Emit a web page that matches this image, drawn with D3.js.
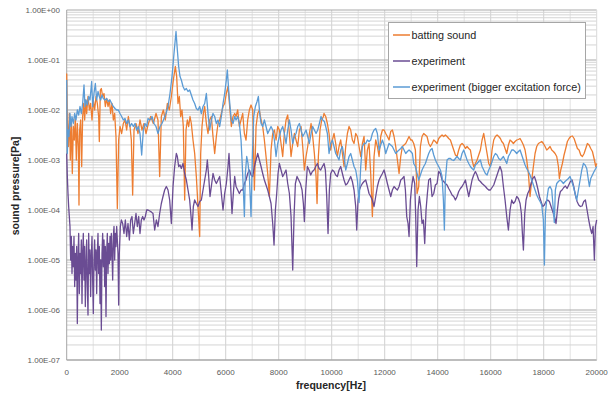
<!DOCTYPE html>
<html>
<head>
<meta charset="utf-8">
<script src="https://cdn.jsdelivr.net/npm/d3@7"></script>
<style>
  body { margin: 0; background: #fff; }
  text { font-family: "Liberation Sans", Arial, sans-serif; }
</style>
</head>
<body>
<svg id="chart" width="612" height="394"></svg>
<script>
// spectra: [frequency Hz, log10(sound pressure Pa)]
const battingSound = [[0,-1.27],[24,-2.2],[62,-2.73],[99,-2.07],[137,-3.0],[175,-2.2],[212,-3.27],[250,-2.33],[288,-2.6],[326,-2.13],[363,-3.0],[401,-2.27],[439,-2.73],[464,-3.9],[489,-2.4],[527,-2.2],[565,-3.13],[602,-2.13],[640,-1.87],[678,-2.2],[716,-1.8],[753,-2.07],[804,-1.73],[854,-2.0],[904,-1.87],[955,-2.2],[1005,-1.8],[1055,-2.0],[1106,-1.73],[1156,-1.87],[1206,-2.13],[1231,-2.63],[1269,-1.6],[1307,-1.57],[1357,-1.73],[1408,-1.67],[1458,-1.93],[1508,-1.77],[1559,-1.93],[1609,-1.8],[1659,-2.07],[1710,-1.87],[1760,-2.2],[1810,-2.07],[1860,-2.53],[1911,-3.97],[1961,-2.6],[2011,-2.33],[2074,-2.47],[2137,-2.27],[2200,-2.2],[2263,-2.4],[2326,-2.13],[2389,-2.33],[2439,-2.6],[2489,-3.7],[2540,-2.4],[2615,-2.27],[2691,-2.47],[2766,-2.2],[2842,-2.4],[2917,-2.27],[2993,-2.47],[3068,-2.3],
  [3169,-2.13],[3269,-2.27],[3370,-2.07],[3445,-2.2],[3508,-3.33],[3571,-2.13],[3647,-2.0],[3722,-2.2],[3798,-1.87],[3873,-2.0],[3949,-1.73],[4024,-1.4],[4100,-1.13],[4150,-1.33],[4200,-1.87],[4250,-1.73],[4301,-2.13],[4351,-2.0],[4401,-2.33],[4452,-3.8],[4502,-2.4],[4552,-2.2],[4603,-2.33],[4653,-2.13],[4703,-2.27],[4766,-2.6],[4829,-2.87],[4892,-3.33],[4955,-3.93],[5018,-4.53],[5056,-2.87],[5106,-2.33],[5156,-2.07],[5207,-1.93],[5270,-2.27],[5332,-2.47],[5395,-2.2],[5458,-2.13],[5521,-2.53],[5584,-2.87],[5647,-2.53],[5710,-2.27],[5773,-2.2],[5836,-2.07],[5899,-1.93],[5961,-1.87],[6024,-1.67],[6087,-1.53],[6150,-1.93],[6213,-2.33],[6276,-2.13],[6339,-2.07],
  [6390,-2.13],[6453,-2.0],[6516,-2.33],[6579,-2.2],[6642,-2.07],[6705,-2.47],[6767,-2.6],[6830,-2.2],[6893,-2.0],[6956,-1.9],[7019,-2.0],[7082,-3.6],[7145,-2.33],[7208,-2.07],[7271,-2.0],[7334,-2.2],[7396,-2.33],[7459,-2.6],[7522,-2.93],[7585,-3.27],[7648,-3.73],[7711,-2.8],[7774,-2.47],[7837,-2.4],[7900,-2.6],[7963,-2.33],[8025,-2.4],[8088,-2.67],[8151,-2.93],[8214,-2.47],[8277,-2.2],[8340,-2.1],[8403,-2.47],[8466,-2.93],[8529,-2.67],[8592,-2.47],[8654,-2.6],[8717,-2.73],[8780,-2.4],[8843,-2.33],[8906,-2.73],[8969,-3.2],[9032,-2.93],[9095,-2.73],[9158,-2.47],[9221,-2.27],[9283,-2.53],[9346,-2.87],[9409,-3.33],[9447,-3.87],[9497,-2.93],[9560,-2.4],[9623,-2.2],[9686,-2.13],
  [9711,-2.07],[9774,-2.13],[9837,-2.27],[9900,-2.47],[9963,-2.8],[10026,-2.6],[10088,-2.47],[10151,-2.67],[10214,-2.93],[10277,-2.73],[10340,-2.6],[10403,-2.87],[10466,-3.13],[10529,-2.73],[10592,-2.47],[10655,-2.33],[10717,-2.4],[10780,-2.6],[10843,-2.67],[10906,-2.47],[10969,-2.53],[11032,-2.73],[11095,-2.93],[11158,-2.67],[11221,-2.53],[11284,-3.2],[11346,-2.8],[11409,-2.67],[11472,-3.27],[11535,-4.13],[11598,-2.93],[11661,-2.6],[11724,-2.73],[11787,-2.93],[11850,-2.53],[11913,-2.4],[11976,-2.4],[12039,-2.47],[12101,-2.53],[12164,-2.6],[12227,-2.43],[12290,-2.4],[12353,-2.53],[12416,-2.73],[12479,-3.0],[12542,-3.27],[12605,-2.93],[12668,-2.73],[12730,-2.7],[12793,-2.67],[12856,-2.6],[12919,-2.53],[12982,-2.6],
  [13032,-2.6],[13095,-2.67],[13158,-2.8],[13221,-3.67],[13284,-3.53],[13347,-2.73],[13409,-2.53],[13472,-2.47],[13535,-2.5],[13598,-2.53],[13661,-2.67],[13724,-2.73],[13787,-2.67],[13850,-2.6],[13913,-2.63],[13976,-2.67],[14038,-2.57],[14101,-2.53],[14164,-2.5],[14227,-2.53],[14290,-2.5],[14353,-2.53],[14416,-2.57],[14479,-2.6],[14542,-2.7],[14605,-2.8],[14668,-2.9],[14730,-2.93],[14793,-2.8],[14856,-2.7],[14919,-2.67],[14982,-2.7],[15045,-2.77],[15108,-2.73],[15171,-2.77],[15234,-2.8],[15296,-3.0],[15359,-3.13],[15422,-3.07],[15485,-3.0],[15548,-2.9],[15611,-2.8],[15674,-2.6],[15737,-2.47],[15800,-2.67],[15863,-2.87],[15926,-3.07],[15988,-3.13],[16051,-2.8],[16114,-2.6],[16177,-2.53],[16240,-2.5],[16303,-2.53],[16366,-2.57],
  [16416,-2.63],[16479,-2.67],[16542,-2.77],[16605,-2.87],[16668,-2.7],[16730,-2.6],[16793,-2.63],[16856,-2.67],[16919,-2.63],[16982,-2.6],[17045,-2.59],[17108,-2.57],[17171,-2.63],[17234,-2.7],[17297,-2.8],[17359,-3.0],[17422,-3.27],[17485,-3.73],[17548,-3.4],[17611,-3.13],[17674,-2.87],[17737,-2.73],[17800,-2.67],[17863,-2.65],[17926,-2.63],[17988,-2.67],[18051,-2.73],[18114,-2.8],[18177,-2.77],[18240,-2.73],[18303,-2.8],[18366,-2.83],[18429,-2.87],[18492,-2.93],[18555,-3.13],[18592,-3.37],[18643,-3.2],[18705,-3.07],[18768,-2.9],[18831,-2.77],[18894,-2.63],[18957,-2.57],[19020,-2.53],[19083,-2.52],[19146,-2.57],[19209,-2.67],[19272,-2.77],[19335,-2.8],[19398,-2.9],[19461,-2.93],[19524,-2.87],[19586,-2.77],[19649,-2.67],[19712,-2.7],[19775,-2.77],[19838,-2.83],[19901,-2.97],[19964,-3.13],[20000,-3.07]];

const experiment = [[0,-2.87],[24,-3.33],[49,-3.67],[74,-3.93],[99,-4.13],[124,-4.33],[150,-5.0],[175,-4.53],[200,-5.27],[225,-4.73],[250,-5.13],[275,-4.53],[301,-5.53],[326,-4.87],[351,-5.4],[376,-4.73],[401,-6.27],[426,-5.0],[452,-4.47],[477,-5.67],[502,-4.87],[527,-5.27],[552,-4.6],[577,-5.87],[602,-4.87],[627,-4.47],[653,-5.4],[678,-4.73],[703,-5.93],[728,-5.13],[753,-4.6],[779,-5.53],[804,-6.1],[829,-4.47],[854,-5.27],[879,-4.8],[904,-5.73],[929,-4.93],[955,-4.53],[980,-5.4],[1005,-6.07],[1030,-5.0],[1055,-4.6],[1081,-5.2],[1106,-4.8],[1131,-5.67],[1156,-4.87],[1181,-4.47],[1206,-5.27],[1231,-4.73],[1257,-5.87],[1282,-5.0],[1307,-6.4],[1332,-4.87],[1357,-4.47],[1382,-5.13],[1408,-4.6],[1433,-5.53],[1458,-4.73],[1483,-6.13],[1508,-4.87],[1533,-4.47],[1559,-5.27],[1584,-4.67],[1609,-5.07],[1634,-4.53],[1659,-5.0],[1684,-4.47],[1710,-4.87],[1735,-5.4],[1760,-4.53],[1785,-4.33],[1810,-5.0],[1835,-4.47],[1860,-4.73],[1886,-4.33],[1911,-4.6],[1936,-4.87],[1961,-5.9],[1986,-4.87],[2024,-4.33],[2062,-4.2],[2112,-4.27],[2162,-4.47],[2213,-4.2],[2263,-4.53],[2313,-4.27],[2364,-4.6],[2414,-4.2],[2464,-4.13],[2515,-4.47],[2565,-4.27],[2615,-4.07],[2665,-4.33],[2716,-4.13],[2766,-4.47],[2816,-4.2],[2867,-4.13],[2917,-4.2],[2967,-4.13],[3018,-4.0],
  [3068,-4.0],[3169,-4.03],[3257,-4.07],[3320,-4.4],[3383,-4.2],[3445,-4.33],[3508,-4.07],[3571,-3.87],[3634,-3.73],[3697,-3.6],[3760,-3.53],[3823,-3.6],[3886,-3.8],[3949,-4.27],[4012,-3.53],[4074,-3.13],[4137,-2.87],[4175,-2.93],[4225,-3.13],[4276,-3.1],[4326,-3.17],[4389,-3.07],[4452,-3.27],[4515,-3.4],[4578,-3.6],[4640,-3.8],[4703,-4.2],[4729,-4.4],[4779,-3.93],[4829,-3.8],[4892,-3.87],[4955,-3.93],[5018,-3.83],[5081,-3.8],[5144,-3.6],[5207,-3.4],[5270,-3.2],[5307,-3.0],[5358,-3.33],[5408,-3.73],[5458,-3.53],[5521,-3.27],[5584,-3.4],[5647,-3.47],[5710,-3.4],[5773,-3.33],[5836,-3.67],[5899,-4.0],[5961,-3.67],[6024,-3.47],[6087,-3.13],[6125,-2.87],[6175,-3.4],[6238,-4.07],[6288,-3.67],[6339,-3.33],
  [6390,-3.53],[6453,-3.6],[6516,-3.67],[6579,-3.6],[6642,-3.6],[6705,-3.47],[6767,-3.4],[6830,-3.27],[6893,-3.2],[6956,-3.3],[7019,-3.33],[7082,-3.13],[7145,-3.0],[7208,-2.87],[7271,-3.0],[7334,-3.13],[7396,-3.27],[7459,-3.4],[7522,-3.5],[7585,-3.6],[7648,-3.73],[7711,-3.87],[7774,-4.27],[7824,-4.7],[7875,-4.0],[7925,-3.67],[7975,-3.27],[8025,-3.07],[8088,-3.2],[8151,-3.33],[8214,-3.27],[8277,-3.2],[8340,-3.47],[8403,-3.67],[8466,-4.13],[8529,-5.2],[8579,-4.13],[8630,-3.47],[8692,-3.33],[8755,-3.4],[8818,-3.47],[8881,-3.6],[8931,-3.87],[8969,-4.23],[9019,-3.6],[9082,-3.13],[9145,-3.2],[9208,-3.3],[9271,-3.23],[9334,-3.2],[9397,-3.13],[9459,-3.07],[9522,-3.17],[9585,-3.2],[9648,-3.13],[9711,-3.07],
  [9761,-3.2],[9812,-3.73],[9862,-4.47],[9912,-3.6],[9963,-3.27],[10026,-3.2],[10088,-3.23],[10151,-3.3],[10214,-3.33],[10277,-3.2],[10340,-3.13],[10403,-3.27],[10466,-3.4],[10529,-3.5],[10592,-3.47],[10655,-3.4],[10717,-3.33],[10780,-3.43],[10843,-3.6],[10906,-3.93],[10944,-4.4],[10994,-3.8],[11045,-3.6],[11095,-3.53],[11158,-3.47],[11221,-3.43],[11284,-3.4],[11346,-3.53],[11409,-3.67],[11472,-3.73],[11535,-3.8],[11598,-3.93],[11661,-3.73],[11724,-3.53],[11787,-3.4],[11850,-3.33],[11913,-3.27],[11976,-3.2],[12039,-3.33],[12101,-3.47],[12164,-3.6],[12227,-3.73],[12290,-3.6],[12353,-3.53],[12416,-3.57],[12479,-3.6],[12542,-3.53],[12605,-3.4],[12668,-3.37],[12730,-3.33],[12781,-3.6],[12831,-4.13],[12881,-4.27],[12919,-4.53],[12969,-3.8],[13019,-3.53],[13070,-3.33],
  [13133,-3.47],[13170,-4.13],[13208,-5.13],[13258,-4.0],[13309,-3.73],[13359,-3.93],[13409,-4.27],[13460,-4.2],[13510,-4.67],[13560,-4.0],[13611,-3.67],[13661,-3.4],[13724,-3.37],[13787,-3.73],[13850,-3.67],[13913,-3.5],[13976,-3.47],[14038,-3.23],[14101,-3.27],[14164,-3.4],[14227,-3.43],[14290,-3.47],[14353,-3.5],[14416,-3.57],[14479,-3.63],[14542,-3.7],[14605,-3.73],[14668,-3.8],[14730,-3.73],[14793,-3.63],[14856,-3.57],[14919,-3.53],[14982,-3.47],[15045,-3.4],[15108,-3.57],[15171,-3.73],[15234,-3.57],[15296,-3.4],[15359,-3.3],[15422,-3.23],[15485,-3.3],[15548,-3.4],[15611,-3.43],[15674,-3.47],[15737,-3.5],[15800,-3.53],[15863,-3.57],[15926,-3.6],[15988,-3.6],[16051,-3.55],[16114,-3.5],[16177,-3.4],[16240,-3.3],[16303,-3.2],
  [16353,-3.13],[16416,-3.23],[16479,-3.53],[16542,-3.8],[16605,-4.13],[16668,-4.4],[16730,-4.0],[16793,-3.8],[16856,-3.87],[16919,-3.83],[16982,-3.73],[17045,-3.77],[17108,-3.87],[17158,-4.07],[17196,-4.47],[17234,-4.8],[17284,-4.07],[17334,-3.8],[17397,-3.67],[17460,-3.6],[17523,-3.47],[17586,-3.37],[17649,-3.33],[17712,-3.43],[17775,-3.57],[17838,-3.73],[17900,-3.83],[17963,-3.93],[18026,-3.9],[18089,-3.83],[18152,-3.8],[18215,-3.83],[18278,-3.93],[18341,-4.03],[18404,-4.13],[18466,-4.27],[18517,-4.0],[18567,-3.77],[18630,-3.63],[18693,-3.6],[18756,-3.55],[18819,-3.52],[18882,-3.57],[18945,-3.5],[19007,-3.43],[19070,-3.4],[19133,-3.53],[19196,-3.7],[19259,-3.83],[19322,-3.9],[19385,-3.93],[19448,-3.92],[19511,-3.83],[19574,-3.8],[19636,-4.0],[19699,-4.2],[19762,-4.37],[19812,-4.47],[19863,-4.33],[19913,-5.0],[19951,-4.33],[20000,-4.2]];

const experimentBig = [[0,-1.4],[11,-2.2],[24,-2.87],[49,-2.4],[87,-2.53],[124,-2.07],[162,-2.33],[200,-2.13],[250,-2.27],[301,-2.07],[351,-2.2],[401,-2.0],[452,-2.1],[502,-1.93],[552,-2.07],[602,-1.87],[653,-1.5],[690,-1.93],[728,-1.8],[779,-1.9],[829,-1.73],[879,-1.8],[942,-1.43],[980,-1.93],[1030,-1.67],[1081,-1.47],[1131,-1.8],[1181,-1.63],[1231,-1.73],[1282,-1.8],[1332,-1.7],[1382,-1.77],[1445,-1.8],[1508,-1.77],[1571,-1.83],[1634,-1.8],[1697,-1.87],[1760,-1.93],[1823,-1.97],[1886,-2.0],[1949,-2.0],[2011,-2.07],[2074,-2.13],[2137,-2.2],[2200,-2.17],[2263,-2.27],[2326,-2.2],[2389,-2.33],[2452,-2.27],[2515,-2.33],[2578,-2.27],[2640,-2.4],[2703,-2.33],[2766,-2.47],[2829,-2.9],[2892,-2.4],[2955,-2.27],[3018,-2.33],
  [3068,-2.17],[3143,-2.2],[3219,-2.13],[3294,-2.27],[3370,-2.33],[3445,-2.47],[3521,-2.33],[3596,-2.27],[3672,-2.17],[3747,-2.07],[3823,-1.93],[3898,-1.67],[3974,-1.33],[4049,-0.87],[4125,-0.43],[4175,-0.8],[4225,-1.13],[4276,-1.33],[4326,-1.4],[4389,-1.53],[4452,-1.6],[4515,-1.57],[4578,-1.63],[4640,-1.6],[4703,-1.7],[4766,-1.8],[4829,-1.87],[4892,-1.97],[4955,-2.0],[5018,-1.93],[5081,-2.07],[5144,-1.93],[5207,-1.87],[5270,-1.67],[5332,-2.07],[5395,-2.4],[5458,-2.2],[5521,-2.07],[5584,-2.13],[5647,-2.27],[5710,-2.2],[5773,-2.33],[5836,-2.13],[5899,-1.87],[5961,-1.67],[6024,-1.4],[6062,-1.2],[6112,-1.6],[6163,-1.93],[6213,-2.2],[6276,-2.27],[6339,-2.13],
  [6390,-2.2],[6453,-2.13],[6516,-2.27],[6579,-2.6],[6616,-3.0],[6667,-3.6],[6705,-4.13],[6742,-3.27],[6793,-2.93],[6843,-3.07],[6893,-3.33],[6956,-4.13],[7006,-2.93],[7057,-2.13],[7120,-1.93],[7183,-1.83],[7233,-1.73],[7283,-2.07],[7334,-2.27],[7396,-2.33],[7459,-2.2],[7522,-2.33],[7585,-2.47],[7648,-2.4],[7711,-2.33],[7774,-2.4],[7837,-2.6],[7900,-2.93],[7963,-2.67],[8025,-2.53],[8088,-2.4],[8151,-2.33],[8214,-2.47],[8277,-2.67],[8340,-2.4],[8403,-2.2],[8466,-2.4],[8529,-2.67],[8592,-2.53],[8654,-2.47],[8717,-2.33],[8780,-2.27],[8843,-2.4],[8906,-2.53],[8969,-2.47],[9032,-2.4],[9095,-2.53],[9158,-2.67],[9221,-2.47],[9283,-2.33],[9346,-2.4],[9409,-2.47],[9472,-2.4],[9535,-2.27],[9598,-2.13],[9661,-2.2],[9724,-2.23],
  [9774,-2.33],[9837,-2.47],[9900,-2.87],[9963,-2.67],[10026,-2.6],[10088,-2.73],[10151,-2.87],[10214,-2.93],[10277,-3.0],[10340,-2.8],[10403,-2.73],[10466,-2.93],[10529,-3.2],[10592,-3.07],[10655,-2.93],[10717,-2.87],[10780,-3.0],[10843,-3.13],[10906,-3.2],[10969,-3.4],[11032,-3.85],[11095,-3.13],[11158,-2.73],[11221,-2.67],[11284,-2.67],[11346,-2.6],[11409,-2.63],[11472,-2.6],[11535,-2.47],[11598,-2.4],[11661,-2.37],[11724,-2.47],[11787,-2.8],[11850,-2.7],[11913,-2.6],[11976,-2.7],[12039,-2.87],[12101,-2.77],[12164,-2.67],[12227,-2.7],[12290,-2.73],[12353,-2.8],[12416,-2.87],[12479,-2.83],[12542,-2.8],[12605,-2.77],[12668,-2.73],[12730,-2.8],[12793,-2.87],[12856,-2.83],[12919,-2.8],[12982,-2.83],[13045,-2.87],
  [13095,-3.07],[13158,-3.13],[13221,-3.27],[13284,-3.4],[13347,-3.3],[13409,-3.2],[13472,-3.13],[13535,-3.07],[13598,-2.97],[13661,-2.87],[13724,-2.8],[13787,-2.77],[13850,-2.9],[13913,-3.0],[13976,-3.07],[14038,-3.13],[14101,-3.2],[14164,-3.33],[14215,-3.8],[14252,-4.4],[14290,-3.4],[14353,-3.0],[14416,-2.97],[14479,-2.97],[14542,-3.0],[14605,-3.01],[14668,-2.97],[14730,-2.93],[14793,-2.97],[14856,-3.0],[14919,-2.87],[14982,-2.8],[15045,-2.9],[15108,-3.0],[15171,-3.07],[15234,-3.13],[15296,-3.17],[15359,-3.2],[15422,-3.1],[15485,-3.07],[15548,-3.03],[15611,-3.0],[15674,-3.13],[15737,-3.2],[15800,-3.27],[15863,-3.3],[15926,-3.2],[15988,-3.13],[16051,-3.03],[16114,-2.93],[16177,-2.87],[16240,-2.9],[16303,-2.97],[16366,-3.0],
  [16416,-2.97],[16479,-2.93],[16542,-3.0],[16605,-3.07],[16668,-2.93],[16730,-2.87],[16793,-2.8],[16856,-2.8],[16919,-2.83],[16982,-2.87],[17045,-2.83],[17108,-2.8],[17171,-2.9],[17234,-3.0],[17297,-3.1],[17359,-3.17],[17422,-3.23],[17485,-3.3],[17548,-3.4],[17611,-3.5],[17674,-3.6],[17737,-3.7],[17800,-3.77],[17863,-3.83],[17926,-3.9],[17988,-4.2],[18026,-5.1],[18064,-4.07],[18114,-3.8],[18177,-3.57],[18240,-3.53],[18303,-3.6],[18366,-4.0],[18400,-4.25],[18440,-3.6],[18492,-3.47],[18555,-3.43],[18618,-3.4],[18681,-3.43],[18743,-3.47],[18806,-3.43],[18869,-3.4],[18932,-3.37],[18995,-3.33],[19058,-3.43],[19121,-3.53],[19184,-3.67],[19247,-3.8],[19310,-3.6],[19373,-3.4],[19436,-3.2],[19499,-3.07],[19562,-3.1],[19624,-3.17],[19687,-3.4],[19725,-3.53],[19775,-3.37],[19838,-3.3],[19901,-3.23],[19964,-3.17],[20000,-3.13]];

const seriesNames = ['batting sound', 'experiment', 'experiment (bigger excitation force)'];
const seriesColors = ['#ed7d31', '#6a4c93', '#5b9bd5'];
const xTickValues = [0, 2000, 4000, 6000, 8000, 10000, 12000, 14000, 16000, 18000, 20000];
const yTickValues = [1e0, 1e-1, 1e-2, 1e-3, 1e-4, 1e-5, 1e-6, 1e-7];
const yTickLabels = ['1.00E+00', '1.00E-01', '1.00E-02', '1.00E-03', '1.00E-04', '1.00E-05', '1.00E-06', '1.00E-07'];

const svg = d3.select('#chart');
const plot = {left: 66.7, right: 596.7, top: 10, bottom: 360};

const x = d3.scaleLinear().domain([0, 20000]).range([plot.left, plot.right]);
const y = d3.scaleLog().domain([1e-7, 1]).range([plot.bottom, plot.top]);

// grid
const grid = svg.append('g');
grid.selectAll('line.vminor')
  .data(d3.range(1000, 20000, 1000))
  .enter().append('line')
  .attr('x1', d => x(d)).attr('x2', d => x(d))
  .attr('y1', plot.top).attr('y2', plot.bottom)
  .attr('stroke', d => d % 2000 === 0 ? '#d0d0d0' : '#e3e3e3')
  .attr('stroke-width', 1);

const minor = y.ticks().filter(v => !yTickValues.some(t => Math.abs(t - v) / t < 1e-6));
grid.selectAll('line.hminor')
  .data(minor)
  .enter().append('line')
  .attr('x1', plot.left).attr('x2', plot.right)
  .attr('y1', d => y(d)).attr('y2', d => y(d))
  .attr('stroke', '#d4d4d4')
  .attr('stroke-width', 1);

grid.selectAll('line.hmajor')
  .data(yTickValues)
  .enter().append('line')
  .attr('x1', plot.left).attr('x2', plot.right)
  .attr('y1', d => y(d)).attr('y2', d => y(d))
  .attr('stroke', '#a9a9a9')
  .attr('stroke-width', 1);

grid.append('line')
  .attr('x1', plot.right).attr('x2', plot.right)
  .attr('y1', plot.top).attr('y2', plot.bottom)
  .attr('stroke', '#d9d9d9');

// axes lines
svg.append('line')
  .attr('x1', plot.left).attr('x2', plot.left)
  .attr('y1', plot.top).attr('y2', plot.bottom)
  .attr('stroke', '#a6a6a6');
svg.append('line')
  .attr('x1', plot.left).attr('x2', plot.right)
  .attr('y1', plot.bottom).attr('y2', plot.bottom)
  .attr('stroke', '#a6a6a6');

// tick labels
svg.append('g').selectAll('text')
  .data(yTickValues)
  .enter().append('text')
  .attr('x', 60)
  .attr('y', d => y(d) + 3)
  .attr('text-anchor', 'end')
  .attr('font-size', 8)
  .attr('fill', '#595959')
  .text((d, i) => yTickLabels[i]);

svg.append('g').selectAll('text')
  .data(xTickValues)
  .enter().append('text')
  .attr('x', d => x(d))
  .attr('y', 375)
  .attr('text-anchor', 'middle')
  .attr('font-size', 8)
  .attr('fill', '#595959')
  .text(d => d);

// axis titles
svg.append('text')
  .attr('x', 331).attr('y', 389)
  .attr('text-anchor', 'middle')
  .attr('font-size', 10.5).attr('font-weight', 'bold')
  .attr('fill', '#262626')
  .text('frequency[Hz]');

svg.append('text')
  .attr('transform', 'translate(19,186) rotate(-90)')
  .attr('text-anchor', 'middle')
  .attr('font-size', 10.5).attr('font-weight', 'bold')
  .attr('fill', '#262626')
  .text('sound pressure[Pa]');

// spectra
const line = d3.line()
  .x(d => x(d[0]))
  .y(d => y(Math.pow(10, d[1])));

[battingSound, experiment, experimentBig].forEach((s, i) => {
  svg.append('path')
    .datum(s)
    .attr('fill', 'none')
    .attr('stroke', seriesColors[i])
    .attr('stroke-width', 1.3)
    .attr('stroke-linejoin', 'round')
    .attr('d', line);
});

// legend
const legend = svg.append('g');
legend.append('rect')
  .attr('x', 388.5).attr('y', 22.5)
  .attr('width', 197).attr('height', 76)
  .attr('fill', '#fff')
  .attr('stroke', '#a6a6a6');

const rowY = [35, 61, 87];
seriesNames.forEach((name, i) => {
  legend.append('line')
    .attr('x1', 393).attr('x2', 410)
    .attr('y1', rowY[i]).attr('y2', rowY[i])
    .attr('stroke', seriesColors[i])
    .attr('stroke-width', 1.5);
  legend.append('text')
    .attr('x', 411.5).attr('y', rowY[i] + 3.8)
    .attr('font-size', 10.8)
    .attr('fill', '#262626')
    .text(name);
});
</script>
</body>
</html>
